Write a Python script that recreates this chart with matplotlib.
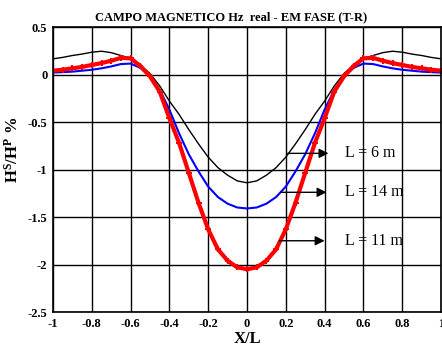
import numpy as np
import matplotlib
matplotlib.use("Agg")
import matplotlib.pyplot as plt

plt.rcParams["font.family"] = "Liberation Serif"
plt.rcParams["font.weight"] = "bold"
plt.rcParams["axes.titleweight"] = "bold"
plt.rcParams["axes.labelweight"] = "bold"
plt.rcParams["mathtext.fontset"] = "custom"
plt.rcParams["mathtext.rm"] = "Liberation Serif:bold"
plt.rcParams["mathtext.bf"] = "Liberation Serif:bold"
plt.rcParams["mathtext.it"] = "Liberation Serif:bold"

# X/L positions
x = [-1.00, -0.95, -0.90, -0.85, -0.80, -0.75, -0.70, -0.65, -0.60, -0.55,
     -0.50, -0.45, -0.40, -0.35, -0.30, -0.25, -0.20, -0.15, -0.10, -0.05,
     0.00,
     0.05, 0.10, 0.15, 0.20, 0.25, 0.30, 0.35, 0.40, 0.45, 0.50,
     0.55, 0.60, 0.65, 0.70, 0.75, 0.80, 0.85, 0.90, 0.95, 1.00]

# L = 6 m (black)
h_6m = [0.165, 0.18, 0.20, 0.215, 0.235, 0.245, 0.23, 0.20, 0.17, 0.10,
        0.01, -0.12, -0.28, -0.42, -0.58, -0.73, -0.87, -0.98, -1.06, -1.12,
        -1.14,
        -1.12, -1.06, -0.98, -0.87, -0.73, -0.58, -0.42, -0.28, -0.12, 0.01,
        0.10, 0.17, 0.20, 0.23, 0.245, 0.235, 0.215, 0.20, 0.18, 0.165]

# L = 14 m (blue)
h_14m = [0.02, 0.025, 0.03, 0.04, 0.05, 0.065, 0.085, 0.11, 0.115, 0.07,
         -0.02, -0.16, -0.37, -0.62, -0.84, -1.02, -1.18, -1.29, -1.36, -1.40,
         -1.41,
         -1.40, -1.36, -1.29, -1.18, -1.02, -0.84, -0.62, -0.37, -0.16, -0.02,
         0.07, 0.115, 0.11, 0.085, 0.065, 0.05, 0.04, 0.03, 0.025, 0.02]

# L = 11 m (red)
h_11m = [0.04, 0.05, 0.065, 0.08, 0.10, 0.12, 0.145, 0.175, 0.17, 0.09,
         -0.02, -0.18, -0.46, -0.72, -1.035, -1.35, -1.63, -1.84, -1.96, -2.03,
         -2.05,
         -2.03, -1.96, -1.84, -1.63, -1.35, -1.035, -0.72, -0.46, -0.18, -0.02,
         0.09, 0.17, 0.175, 0.145, 0.12, 0.10, 0.08, 0.065, 0.05, 0.04]

labels = ["L = 6 m", "L = 14 m", "L = 11 m"]
arrow_y = [-0.83, -1.24, -1.75]
arrow_x0 = [0.21, 0.175, 0.167]
arrow_x1 = [0.42, 0.41, 0.40]

fig = plt.figure(figsize=(4.42, 3.48), dpi=100)
ax = fig.add_axes([53 / 442, 1 - 312 / 348, 388 / 442, 285 / 348])

ax.plot(x, h_6m, color="black", lw=1.0)
ax.plot(x, h_14m, color="blue", lw=1.5)
ax.plot(x, h_11m, color="red", lw=3, marker="+", ms=4.5, mew=1.5)

for lab, yy, xa, xb in zip(labels, arrow_y, arrow_x0, arrow_x1):
    ax.annotate("", xy=(xb, yy), xytext=(xa, yy),
                arrowprops=dict(arrowstyle="-|>", color="black", lw=1,
                                mutation_scale=14, shrinkA=0, shrinkB=0))
    ax.text(0.505, yy, lab, fontsize=11.5, fontweight="normal",
            va="center", ha="left")

ax.set_xlim(-1, 1)
ax.set_ylim(-2.5, 0.5)
ax.set_xticks(np.arange(-1, 1.01, 0.2))
ax.set_yticks(np.arange(-2.5, 0.51, 0.5))
ax.set_xticklabels(["-1", "-0.8", "-0.6", "-0.4", "-0.2", "0", "0.2", "0.4", "0.6", "0.8", "1"])
ax.set_yticklabels(["-2.5", "-2", "-1.5", "-1", "-0.5", "0", "0.5"])
ax.tick_params(length=0, labelsize=9, pad=4)
ax.grid(True, color="black", lw=1)
for s in ax.spines.values():
    s.set_linewidth(1.2)

ax.set_title("CAMPO MAGNETICO Hz  real - EM FASE (T-R)", fontsize=9, pad=5,
             x=0.46)
ax.set_xlabel("X/L", fontsize=12, labelpad=1)
ax.set_ylabel(r"H$^{\mathrm{S}}$/H$^{\mathrm{P}}$ %", fontsize=12)
ax.yaxis.set_label_coords(-0.08, 0.57)

fig.savefig("out.png", dpi=100)
